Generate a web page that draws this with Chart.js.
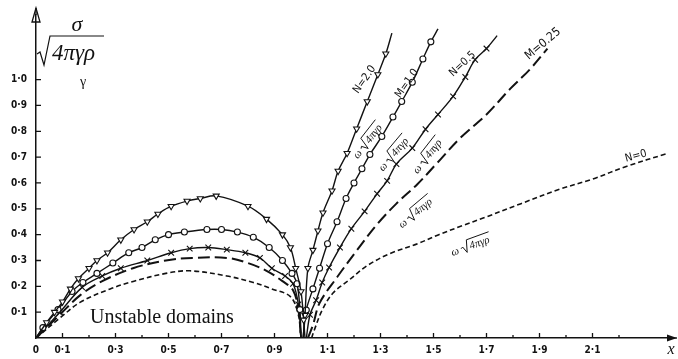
<!DOCTYPE html>
<html>
<head>
<meta charset="utf-8">
<script src="https://cdn.jsdelivr.net/npm/chart.js@4.4.0/dist/chart.umd.min.js"></script>
<style>
  body { margin: 0; background: #fff; }
  #wrap { width: 678px; height: 359px; position: relative; }
</style>
</head>
<body>
<div id="wrap"><canvas id="chart"></canvas></div>
<script>
// 곡선 데이터 [x, y] : 왼쪽 = 불안정 영역 (0 < x < 1), 오른쪽 = x > 1
const n20Left = [[0,0],[0.04,0.06],[0.07,0.10],[0.10,0.14],[0.13,0.19],[0.16,0.23],[0.20,0.27],[0.23,0.30],[0.27,0.33],[0.32,0.38],[0.37,0.42],[0.42,0.45],[0.46,0.48],[0.51,0.51],[0.57,0.53],[0.62,0.54],[0.68,0.55],[0.80,0.51],[0.87,0.46],[0.93,0.40],[0.96,0.35],[0.98,0.27],[1.0,0.18],[1.01,0.07],[1.015,0]];
const n20Right = [[1.008,0],[1.015,0.088],[1.026,0.27],[1.045,0.34],[1.064,0.415],[1.083,0.485],[1.117,0.57],[1.14,0.646],[1.174,0.715],[1.21,0.81],[1.25,0.915],[1.29,1.02],[1.32,1.10],[1.343,1.18]];

const n10Left = [[0,0],[0.026,0.04],[0.083,0.11],[0.136,0.18],[0.177,0.215],[0.23,0.25],[0.29,0.29],[0.35,0.33],[0.40,0.35],[0.45,0.38],[0.50,0.40],[0.56,0.41],[0.645,0.42],[0.70,0.42],[0.76,0.41],[0.82,0.39],[0.88,0.35],[0.93,0.30],[0.966,0.25],[0.985,0.21],[0.996,0.11],[1.0,0]];
const n10Right = [[1.008,0],[1.02,0.108],[1.045,0.19],[1.07,0.27],[1.10,0.365],[1.136,0.45],[1.17,0.54],[1.20,0.60],[1.23,0.655],[1.26,0.71],[1.305,0.78],[1.347,0.855],[1.38,0.915],[1.42,0.99],[1.46,1.08],[1.49,1.146],[1.517,1.196]];

const n05Left = [[0,0],[0.09,0.10],[0.174,0.196],[0.25,0.24],[0.32,0.27],[0.42,0.30],[0.51,0.33],[0.58,0.346],[0.65,0.35],[0.72,0.342],[0.79,0.33],[0.845,0.31],[0.89,0.27],[0.94,0.24],[0.97,0.21],[0.99,0.13],[1.0,0]];
const n05Right = [[1.02,0],[1.034,0.09],[1.057,0.146],[1.08,0.215],[1.106,0.273],[1.147,0.35],[1.19,0.423],[1.24,0.49],[1.287,0.558],[1.325,0.608],[1.36,0.673],[1.42,0.735],[1.47,0.808],[1.517,0.865],[1.574,0.935],[1.62,1.01],[1.657,1.077],[1.70,1.12],[1.74,1.17]];

const m025Left = [[0,0],[0.09,0.09],[0.166,0.165],[0.25,0.22],[0.366,0.27],[0.49,0.30],[0.59,0.31],[0.72,0.31],[0.80,0.29],[0.87,0.26],[0.93,0.22],[0.97,0.185],[0.99,0.11],[1.0,0]];
const m025Right = [[1.026,0],[1.045,0.05],[1.07,0.135],[1.136,0.235],[1.21,0.338],[1.287,0.44],[1.36,0.52],[1.44,0.596],[1.51,0.673],[1.60,0.773],[1.70,0.865],[1.79,0.965],[1.864,1.04],[1.93,1.12]];

const n0Left = [[0,0],[0.09,0.077],[0.166,0.138],[0.28,0.19],[0.37,0.22],[0.49,0.25],[0.58,0.26],[0.72,0.24],[0.82,0.215],[0.89,0.19],[0.96,0.16],[0.99,0.09],[1.0,0]];
const n0Right = [[1.04,0],[1.05,0.03],[1.08,0.108],[1.12,0.173],[1.18,0.223],[1.25,0.28],[1.336,0.327],[1.44,0.365],[1.52,0.40],[1.61,0.435],[1.69,0.465],[1.83,0.52],[1.98,0.577],[2.10,0.615],[2.23,0.665],[2.385,0.715]];

const curveNames = ['N=2.0', 'M=1.0', 'N=0.5', 'M=0.25', 'N=0'];

// 눈금 (0.1 단위 정수로)
const xLabelTenths = [0, 1, 3, 5, 7, 9, 11, 13, 15, 17, 19, 21];
const yLabelTenths = [1, 2, 3, 4, 5, 6, 7, 8, 9, 10];
const xTickMax = 22;

const ink = '#121212';
const toXY = arr => arr.map(p => ({ x: p[0], y: p[1] }));
const tenthText = t => t === 0 ? '0' : Math.floor(t / 10) + '·' + (t % 10);

// 끝점에는 마커 없음
function markerRadius(r) {
  return ctx => {
    const n = ctx.dataset.data.length;
    return (ctx.dataIndex === 0 || ctx.dataIndex === n - 1) ? 0 : r;
  };
}

function markedLine(label, data, style, r) {
  return {
    label: label, data: toXY(data), showLine: true,
    borderColor: ink, borderWidth: 1.4, tension: 0.35,
    pointStyle: style, pointRotation: style === 'triangle' ? 180 : 0,
    pointRadius: markerRadius(r), pointBackgroundColor: '#fff',
    pointBorderColor: ink, pointBorderWidth: 1.1
  };
}

function dashedLine(label, data, dash, width) {
  return {
    label: label, data: toXY(data), showLine: true,
    borderColor: ink, borderWidth: width, borderDash: dash, tension: 0.35,
    pointRadius: 0
  };
}

// ω√4πγρ 라벨
function rootLabel(ctx, x, y, angle, size) {
  ctx.save();
  ctx.translate(x, y);
  ctx.rotate(angle * Math.PI / 180);
  ctx.font = 'italic ' + size + 'px "Liberation Serif"';
  ctx.textBaseline = 'alphabetic';
  ctx.textAlign = 'left';
  const body = '4πγρ';
  const wOm = ctx.measureText('ω ').width;
  const wBody = ctx.measureText(body).width;
  const total = wOm + 9 + wBody;
  ctx.translate(-total / 2, size * 0.35);
  ctx.fillText('ω', 0, 0);
  const x0 = wOm;
  ctx.beginPath();
  ctx.moveTo(x0, -size * 0.35);
  ctx.lineTo(x0 + 2, -size * 0.45);
  ctx.lineTo(x0 + 4.5, size * 0.15);
  ctx.lineTo(x0 + 8, -size * 0.95);
  ctx.lineTo(x0 + 9 + wBody + 2, -size * 0.95);
  ctx.lineWidth = 0.9;
  ctx.stroke();
  ctx.fillText(body, x0 + 9, 0);
  ctx.restore();
}

function rotText(ctx, text, x, y, angle, font) {
  ctx.save();
  ctx.translate(x, y);
  ctx.rotate(angle * Math.PI / 180);
  ctx.font = font;
  ctx.textAlign = 'center';
  ctx.textBaseline = 'middle';
  ctx.fillText(text, 0, 0);
  ctx.restore();
}

const decor = {
  id: 'decor',
  afterDraw(chart) {
    const ctx = chart.ctx;
    const xs = chart.scales.x, ys = chart.scales.y;
    const X = v => xs.getPixelForValue(v), Y = v => ys.getPixelForValue(v);
    const a = chart.chartArea;
    ctx.save();
    ctx.strokeStyle = ink;
    ctx.fillStyle = ink;
    ctx.lineWidth = 1.3;

    // 안쪽 눈금
    ctx.beginPath();
    for (let t = 1; t <= xTickMax; t++) {
      const px = X(t / 10);
      ctx.moveTo(px, a.bottom);
      ctx.lineTo(px, a.bottom - (t % 2 ? 5 : 3));
    }
    for (let t = 1; t <= 10; t++) {
      const py = Y(t / 10);
      ctx.moveTo(a.left, py);
      ctx.lineTo(a.left + 5, py);
    }
    ctx.stroke();

    // 축 화살표
    ctx.beginPath();
    ctx.moveTo(a.left, a.top);
    ctx.lineTo(a.left, 8);
    ctx.stroke();
    ctx.beginPath();
    ctx.moveTo(a.left, 8);
    ctx.lineTo(a.left - 4, 22);
    ctx.lineTo(a.left + 4, 22);
    ctx.closePath();
    ctx.stroke();
    ctx.beginPath();
    ctx.moveTo(a.right, a.bottom);
    ctx.lineTo(677, a.bottom);
    ctx.stroke();
    ctx.beginPath();
    ctx.moveTo(677, a.bottom);
    ctx.lineTo(667, a.bottom - 3.5);
    ctx.lineTo(667, a.bottom + 3.5);
    ctx.closePath();
    ctx.fill();

    // y축 제목: σ / √(4πγρ)
    ctx.font = 'italic 22px "Liberation Serif"';
    ctx.textAlign = 'center';
    ctx.textBaseline = 'alphabetic';
    ctx.fillText('σ', 77, 31);
    ctx.beginPath();
    ctx.lineWidth = 1.2;
    ctx.moveTo(a.left + 1, 54);
    ctx.lineTo(a.left + 4, 52);
    ctx.lineTo(a.left + 8, 65);
    ctx.lineTo(a.left + 14, 36);
    ctx.lineTo(104, 36);
    ctx.stroke();
    ctx.textAlign = 'left';
    ctx.font = 'italic 23px "Liberation Serif"';
    ctx.fillText('4πγρ', 52, 60);
    ctx.font = '14px "Liberation Serif"';
    ctx.textAlign = 'center';
    ctx.fillText('γ', 83, 86);

    ctx.font = 'italic 16px "Liberation Serif"';
    ctx.fillText('x', 671, 354);

    ctx.font = '20px "Liberation Serif"';
    ctx.textAlign = 'left';
    ctx.fillText('Unstable domains', 90, 323);

    // 곡선 이름
    const lblFont = '11px "DejaVu Sans Condensed"';
    rotText(ctx, curveNames[0], X(1.24), Y(1.00), -55, lblFont);
    rotText(ctx, curveNames[1], X(1.40), Y(0.985), -55, lblFont);
    rotText(ctx, curveNames[2], X(1.61), Y(1.06), -43, lblFont);
    rotText(ctx, curveNames[3], X(1.913), Y(1.138), -40, '12px "DejaVu Sans Condensed"');
    rotText(ctx, curveNames[4], X(2.264), Y(0.704), -15, lblFont);

    rootLabel(ctx, X(1.249), Y(0.762), -52, 11);
    rootLabel(ctx, X(1.347), Y(0.712), -50, 11);
    rootLabel(ctx, X(1.475), Y(0.704), -52, 11);
    rootLabel(ctx, X(1.43), Y(0.485), -40, 11);
    rootLabel(ctx, X(1.638), Y(0.358), -20, 11);
    ctx.restore();
  }
};

new Chart(document.getElementById('chart'), {
  type: 'scatter',
  data: {
    datasets: [
      markedLine(curveNames[0], n20Left, 'triangle', 3.5),
      markedLine(curveNames[0], n20Right, 'triangle', 3.5),
      markedLine(curveNames[1], n10Left, 'circle', 3),
      markedLine(curveNames[1], n10Right, 'circle', 3),
      markedLine(curveNames[2], n05Left, 'crossRot', 4),
      markedLine(curveNames[2], n05Right, 'crossRot', 4),
      dashedLine(curveNames[3], m025Left, [12, 5], 2),
      dashedLine(curveNames[3], m025Right, [12, 5], 2),
      dashedLine(curveNames[4], n0Left, [5, 3], 1.6),
      dashedLine(curveNames[4], n0Right, [5, 3], 1.6)
    ]
  },
  options: {
    responsive: true,
    maintainAspectRatio: false,
    animation: false,
    layout: { padding: { top: 13, right: 6, left: 0, bottom: 0 } },
    plugins: { legend: { display: false }, tooltip: { enabled: false } },
    scales: {
      x: {
        type: 'linear', min: 0, max: 2.4,
        afterFit: s => { s.height = 21; },
        border: { display: true, color: ink, width: 1.5 },
        grid: { display: false, drawTicks: false },
        ticks: {
          stepSize: 0.1, autoSkip: false, maxRotation: 0, padding: 6,
          color: ink, font: { family: 'DejaVu Sans Condensed', size: 10, weight: 'bold' },
          callback: v => {
            const t = Math.round(v * 10);
            return xLabelTenths.includes(t) ? tenthText(t) : '';
          }
        }
      },
      y: {
        type: 'linear', min: 0, max: 1.25,
        afterFit: s => { s.width = 36; },
        border: { display: true, color: ink, width: 1.5 },
        grid: { display: false, drawTicks: false },
        ticks: {
          stepSize: 0.1, autoSkip: false, padding: 9,
          color: ink, font: { family: 'DejaVu Sans Condensed', size: 10, weight: 'bold' },
          callback: v => {
            const t = Math.round(v * 10);
            return yLabelTenths.includes(t) && Math.abs(v * 10 - t) < 1e-6 ? tenthText(t) : '';
          }
        }
      }
    }
  },
  plugins: [decor]
});
</script>
</body>
</html>
